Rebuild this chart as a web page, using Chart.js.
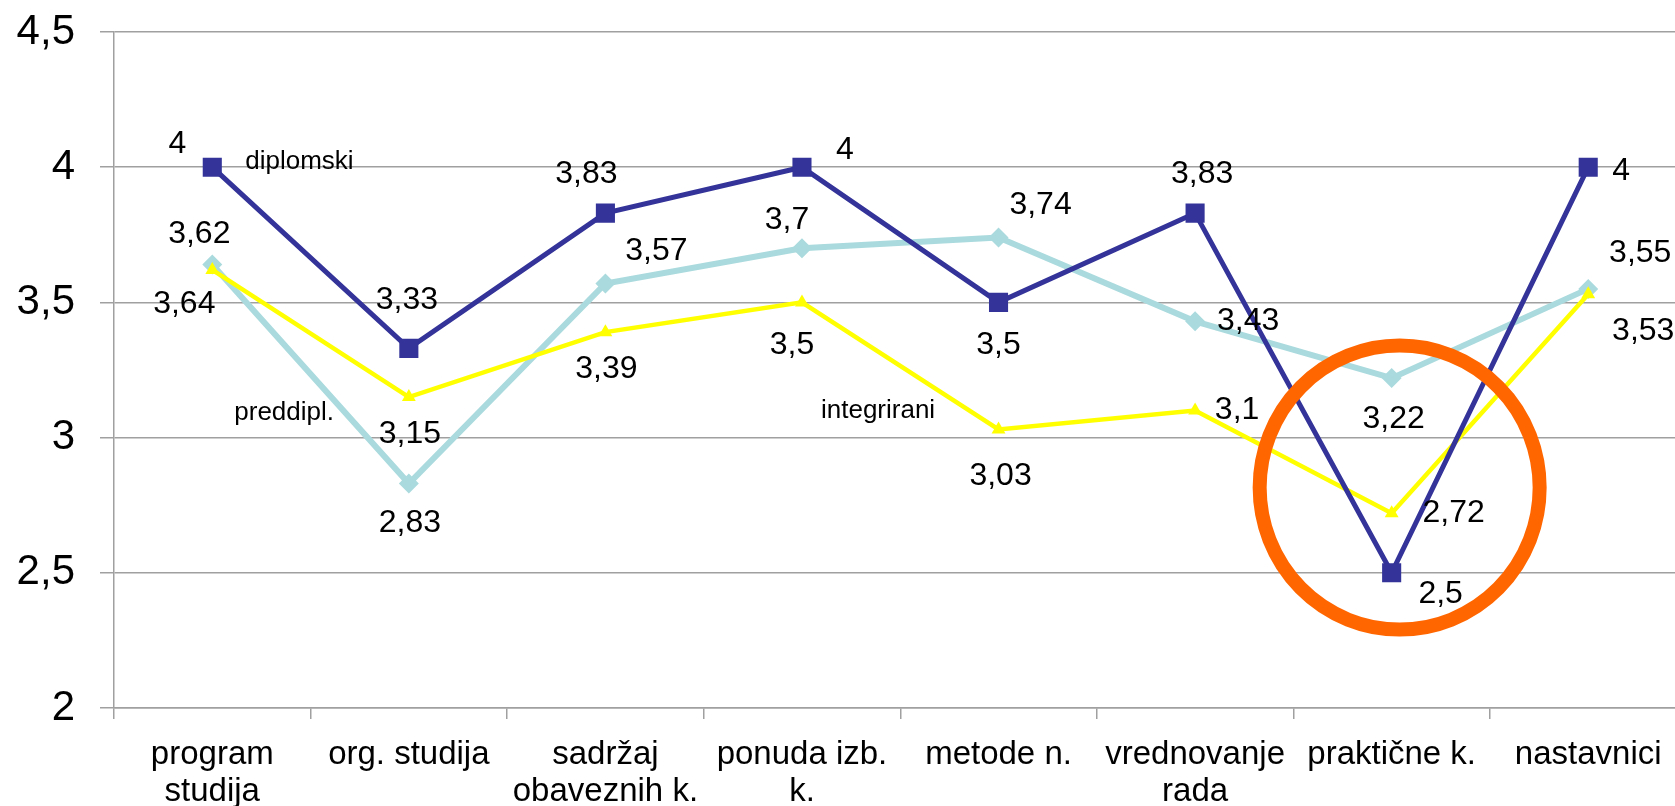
<!DOCTYPE html>
<html>
<head>
<meta charset="utf-8">
<script src="https://cdn.jsdelivr.net/npm/chart.js@4.4.1/dist/chart.umd.min.js"></script>
<style>
  html, body { margin: 0; padding: 0; background: #fff; overflow: hidden; }
  canvas { display: block; }
</style>
</head>
<body>
<canvas id="c" width="1700" height="806" style="width:1700px;height:806px"></canvas>
<script>
// ---- data ----
const categories = [
  ['program', 'studija'],
  'org. studija',
  ['sadržaj', 'obaveznih k.'],
  ['ponuda izb.', 'k.'],
  'metode n.',
  ['vrednovanje', 'rada'],
  'praktične k.',
  'nastavnici'
];
const diplomski   = [4, 3.33, 3.83, 4, 3.5, 3.83, 2.5, 4];
const preddipl    = [3.64, 2.83, 3.57, 3.7, 3.74, 3.43, 3.22, 3.55];
const integrirani = [3.62, 3.15, 3.39, 3.5, 3.03, 3.1, 2.72, 3.53];
const yTicks = [2, 2.5, 3, 3.5, 4, 4.5];
const seriesNames = ['diplomski', 'integrirani', 'preddipl.'];

// ---- label placement (styling, pixel offsets from each point) ----
const labelOffsets = {
  0: [[-35,-23],[-2,-48],[-19,-39],[43,-17],[0,43],[7,-39],[49,21],[33,4]],      // diplomski
  1: [[-13,-36],[1,37],[1,37],[-10,43],[2,47],[42,0],[62,0],[55,37]],            // integrirani
  2: [[-28,40],[1,40],[51,-32],[-15,-28],[42,-32],[53,0],[2,41],[52,-36]]        // preddipl
};
// series name annotations: [text, category index, dx px, y value]
const nameNotes = [
  ['diplomski', 0, 33, 4.02],
  ['preddipl.', 0, 22, 3.09],
  ['integrirani', 3, 19, 3.1]
];

const FONT = "'Liberation Sans', Arial, Helvetica, sans-serif";
Chart.defaults.font.family = FONT;
Chart.defaults.color = '#000';

const fmt = v => String(v).replace('.', ',');

const labelPlugin = {
  id: 'valueLabels',
  afterDatasetsDraw(chart) {
    const ctx = chart.ctx;
    ctx.save();
    ctx.fillStyle = '#000';
    ctx.textAlign = 'center';
    ctx.textBaseline = 'middle';
    ctx.font = '32px ' + FONT;
    chart.data.datasets.forEach((ds, di) => {
      const meta = chart.getDatasetMeta(di);
      meta.data.forEach((pt, i) => {
        const off = labelOffsets[di][i];
        ctx.fillText(fmt(ds.data[i]), pt.x + off[0], pt.y + off[1]);
      });
    });
    // series name notes
    const xs = chart.scales.x, ys = chart.scales.y;
    ctx.font = '26px ' + FONT;
    ctx.textAlign = 'left';
    nameNotes.forEach(n => {
      ctx.fillText(n[0], xs.getPixelForValue(n[1]) + n[2], ys.getPixelForValue(n[3]));
    });
    // highlight ellipse around "praktične k."
    const cx = xs.getPixelForValue(6) + 8;
    const cy = ys.getPixelForValue(2.815);
    ctx.beginPath();
    ctx.ellipse(cx, cy, 140, 142, 0, 0, Math.PI * 2);
    ctx.lineWidth = 14;
    ctx.strokeStyle = '#FF6600';
    ctx.stroke();
    ctx.restore();
  }
};

new Chart(document.getElementById('c'), {
  type: 'line',
  data: {
    labels: categories,
    datasets: [
      {
        label: seriesNames[0], data: diplomski,
        borderColor: '#333399', backgroundColor: '#333399',
        borderWidth: 5, pointStyle: 'rect', pointRadius: 13.5,
        pointBorderWidth: 0, pointHoverRadius: 13.5, tension: 0
      },
      {
        label: seriesNames[1], data: integrirani,
        borderColor: '#FFFF00', backgroundColor: '#FFFF00',
        borderWidth: 4.5, pointStyle: 'triangle', pointRadius: 8,
        pointBorderWidth: 0, tension: 0
      },
      {
        label: seriesNames[2], data: preddipl,
        borderColor: '#AADADD', backgroundColor: '#AADADD',
        borderWidth: 6, pointStyle: 'rectRot', pointRadius: 10,
        pointBorderWidth: 0, tension: 0
      }
    ]
  },
  options: {
    responsive: false,
    animation: false,
    layout: { padding: { top: 32, right: 13, left: 0, bottom: 0 } },
    plugins: { legend: { display: false }, tooltip: { enabled: false } },
    scales: {
      x: {
        type: 'category',
        offset: true,
        grid: {
          offset: true, drawOnChartArea: false, drawTicks: true,
          tickLength: 11, color: '#a0a0a0', lineWidth: 1.5
        },
        border: { display: true, color: '#a0a0a0', width: 1.5 },
        ticks: {
          font: { size: 33, lineHeight: 1.1 }, color: '#000',
          padding: 18, maxRotation: 0, autoSkip: false
        },
        afterFit(s) { s.height = 98; }
      },
      y: {
        min: 2, max: 4.5,
        afterBuildTicks(s) { s.ticks = yTicks.map(v => ({ value: v })); },
        grid: { color: '#a0a0a0', lineWidth: 1.5, tickLength: 14, drawTicks: true },
        border: { display: true, color: '#a0a0a0', width: 1.5 },
        ticks: {
          font: { size: 42 }, color: '#000', padding: 25,
          callback: v => fmt(v)
        },
        afterFit(s) { s.width = 114; s.paddingTop = 0; s.paddingBottom = 0; }
      }
    }
  },
  plugins: [labelPlugin]
});
</script>
</body>
</html>
